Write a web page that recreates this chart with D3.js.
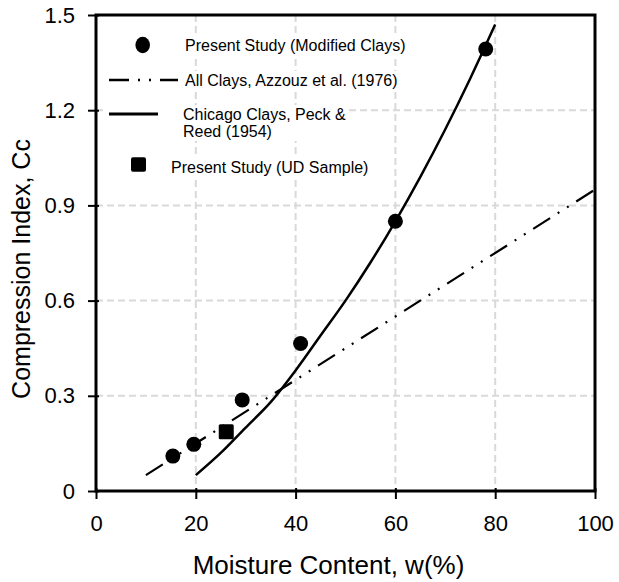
<!DOCTYPE html>
<html>
<head>
<meta charset="utf-8">
<script src="https://cdn.jsdelivr.net/npm/d3@7"></script>
<style>
  body { margin: 0; background: #fff; }
  svg text { font-family: "Liberation Sans", Arial, sans-serif; fill: #000; }
</style>
</head>
<body>
<figure id="chart" style="margin:0"></figure>
<script>
// data
const modW = [15.4, 19.6, 29.3, 41.0, 60.0, 78.1];
const modCc = [0.11, 0.147, 0.287, 0.465, 0.85, 1.393];
const udW = [26.1];
const udCc = [0.187];
const azzouzW = [10, 100];
const azzouzCc = [0.05, 0.95];
const peckW = [20, 25, 30, 35, 40, 45, 50, 55, 60, 65, 70, 75, 80];
const peckCc = [0.05, 0.12, 0.20, 0.28, 0.38, 0.49, 0.60, 0.72, 0.85, 0.99, 1.14, 1.30, 1.47];
const xTicks = [0, 20, 40, 60, 80, 100];
const yTicks = [0, 0.3, 0.6, 0.9, 1.2, 1.5];

const width = 619, height = 582;
const plotLeft = 96, plotRight = 595, plotTop = 15, plotBottom = 491;
const dashDot = "20,9,2,9,2,9";

const svg = d3.select("figure#chart")
  .append("svg")
  .attr("width", width)
  .attr("height", height);

const x = d3.scaleLinear().domain([0, 100]).range([plotLeft, plotRight]);
const y = d3.scaleLinear().domain([0, 1.5]).range([plotBottom, plotTop]);

// grid lines
svg.append("g")
  .selectAll("line")
  .data(xTicks.slice(1, -1))
  .enter()
  .append("line")
  .attr("x1", d => x(d)).attr("x2", d => x(d))
  .attr("y1", plotTop).attr("y2", plotBottom)
  .attr("stroke", "#d9d9d9").attr("stroke-width", 2)
  .attr("stroke-dasharray", "7,4");

svg.append("g")
  .selectAll("line")
  .data(yTicks.slice(1, -1))
  .enter()
  .append("line")
  .attr("x1", plotLeft).attr("x2", plotRight)
  .attr("y1", d => y(d)).attr("y2", d => y(d))
  .attr("stroke", "#d9d9d9").attr("stroke-width", 2)
  .attr("stroke-dasharray", "7,4");

// legend (drawn before the series so curves pass over it)
const legend = svg.append("g");
const entries = [];

function legendText(lines, tx, ty) {
  const t = legend.append("text")
    .attr("x", tx).attr("y", ty)
    .style("font-size", "16px");
  lines.forEach((s, i) => {
    t.append("tspan").attr("x", tx).attr("dy", i === 0 ? 0 : 17).text(s);
  });
  return t;
}

entries.push({ x0: 130, t: legendText(["Present Study (Modified Clays)"], 185, 51) });
entries.push({ x0: 105, t: legendText(["All Clays, Azzouz et al. (1976)"], 185, 86) });
entries.push({ x0: 105, t: legendText(["Chicago Clays, Peck &", "Reed (1954)"], 183, 120) });
entries.push({ x0: 126, t: legendText(["Present Study (UD Sample)"], 171, 173) });

// white boxes behind the legend entries hide the grid
entries.forEach(e => {
  const b = e.t.node().getBBox();
  legend.insert("rect", ":first-child")
    .attr("x", e.x0).attr("y", b.y - 1)
    .attr("width", b.x + b.width + 2 - e.x0)
    .attr("height", b.height + 2)
    .attr("fill", "#fff");
});

legend.append("ellipse")
  .attr("cx", 142.7).attr("cy", 45).attr("rx", 7.3).attr("ry", 8.3)
  .attr("fill", "#000");
legend.append("line")
  .attr("x1", 109).attr("x2", 178).attr("y1", 80).attr("y2", 80)
  .attr("stroke", "#000").attr("stroke-width", 2.5)
  .attr("stroke-dasharray", dashDot);
legend.append("line")
  .attr("x1", 109).attr("x2", 158).attr("y1", 114).attr("y2", 114)
  .attr("stroke", "#000").attr("stroke-width", 3);
legend.append("rect")
  .attr("x", 131).attr("y", 157.3).attr("width", 15).attr("height", 14.5)
  .attr("rx", 2).attr("fill", "#000");

// Azzouz et al. line
svg.append("path")
  .datum(d3.zip(azzouzW, azzouzCc))
  .attr("d", d3.line().x(d => x(d[0])).y(d => y(d[1])))
  .attr("fill", "none")
  .attr("stroke", "#000").attr("stroke-width", 2.2)
  .attr("stroke-dasharray", dashDot);

// Peck & Reed curve
svg.append("path")
  .datum(d3.zip(peckW, peckCc))
  .attr("d", d3.line().curve(d3.curveMonotoneX).x(d => x(d[0])).y(d => y(d[1])))
  .attr("fill", "none")
  .attr("stroke", "#000").attr("stroke-width", 2.5);

// modified clays
svg.append("g")
  .selectAll("circle")
  .data(d3.zip(modW, modCc))
  .enter()
  .append("circle")
  .attr("cx", d => x(d[0]))
  .attr("cy", d => y(d[1]))
  .attr("r", 7.5)
  .attr("fill", "#000");

// UD sample
svg.append("g")
  .selectAll("rect")
  .data(d3.zip(udW, udCc))
  .enter()
  .append("rect")
  .attr("x", d => x(d[0]) - 7.5)
  .attr("y", d => y(d[1]) - 7.5)
  .attr("width", 15).attr("height", 15)
  .attr("rx", 1.5)
  .attr("fill", "#000");

// frame
svg.append("rect")
  .attr("x", plotLeft).attr("y", plotTop)
  .attr("width", plotRight - plotLeft).attr("height", plotBottom - plotTop)
  .attr("fill", "none")
  .attr("stroke", "#000").attr("stroke-width", 3);

// axes
const yAxis = svg.append("g")
  .attr("transform", "translate(" + plotLeft + ",0)")
  .call(d3.axisLeft(y).tickValues(yTicks).tickSize(8).tickPadding(13)
    .tickFormat(d => d === 0 ? "0" : d3.format(".1f")(d)));
yAxis.select(".domain").remove();
yAxis.selectAll("line").attr("x1", 3).attr("stroke-width", 2);

const xAxis = svg.append("g")
  .attr("transform", "translate(0," + plotBottom + ")")
  .call(d3.axisBottom(x).tickValues(xTicks).tickSize(8).tickPadding(16));
xAxis.select(".domain").remove();
xAxis.selectAll("line").attr("y1", -3).attr("stroke-width", 2);

svg.selectAll(".tick text")
  .attr("font-family", null).attr("font-size", null)
  .style("font-size", "22px");

// axis titles
svg.append("text")
  .attr("x", 328.5).attr("y", 574)
  .attr("text-anchor", "middle")
  .style("font-size", "26px")
  .text("Moisture Content, w(%)");

svg.append("text")
  .attr("transform", "translate(29.5,269) rotate(-90)")
  .attr("text-anchor", "middle")
  .style("font-size", "25px")
  .text("Compression Index, Cc");
</script>
</body>
</html>
